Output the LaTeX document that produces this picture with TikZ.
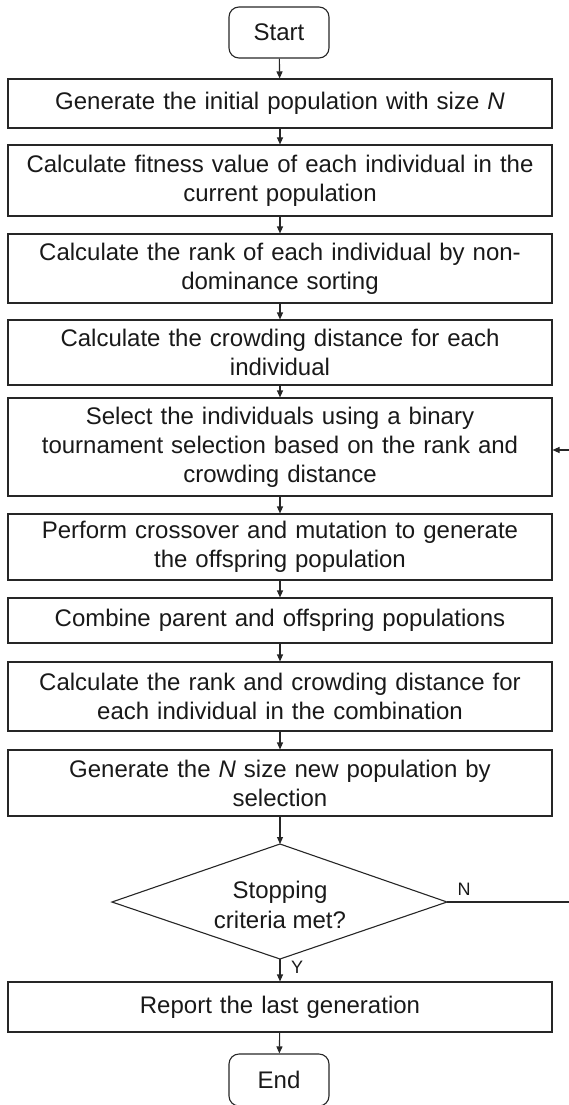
\documentclass[tikz,border=0pt]{standalone}
\usepackage{fontspec}
\setmainfont{Liberation Sans}
\usetikzlibrary{arrows.meta}

\begin{document}
\begin{tikzpicture}[x=1pt,y=-1pt,
  line width=1.1pt,
  every node/.style={text=black!90},
  stepbox/.style={draw=black!85, rectangle, inner sep=0pt,
    minimum width=544pt, text width=536pt, align=center,
    font=\fontsize{24}{29}\selectfont},
  termbox/.style={draw=black!85, rectangle, rounded corners=10pt, inner sep=0pt,
    minimum width=100pt, align=center, font=\fontsize{24}{29}\selectfont},
  flow/.style={draw=black!85, -{Triangle[length=7pt,width=6pt]}},
  lbl/.style={font=\fontsize{18}{20}\selectfont, inner sep=0pt}]

\useasboundingbox (0,0) rectangle (569,1105);
\clip (0,0) rectangle (569,1105);

% terminals
\node[termbox, minimum height=51pt] (start) at (279,32.5) {Start};
\node[termbox, minimum height=52pt] (end) at (279,1080) {End};

% process steps
\node[stepbox, minimum height=49pt] (b1) at (280,103.5) {Generate the initial population with size \textit{N}};
\node[stepbox, minimum height=71pt] (b2) at (280,180.5) {Calculate fitness value of each individual in the\\current population};
\node[stepbox, minimum height=69pt] (b3) at (280,268.5) {Calculate the rank of each individual by non-\\dominance sorting};
\node[stepbox, minimum height=65pt] (b4) at (280,352.5) {Calculate the crowding distance for each\\individual};
\node[stepbox, minimum height=98pt] (b5) at (280,447) {Select the individuals using a binary\\tournament selection based on the rank and\\crowding distance};
\node[stepbox, minimum height=66pt] (b6) at (280,547) {Perform crossover and mutation to generate\\the offspring population};
\node[stepbox, minimum height=45pt] (b7) at (280,620.5) {Combine parent and offspring populations};
\node[stepbox, minimum height=69pt] (b8) at (280,696.5) {Calculate the rank and crowding distance for\\each individual in the combination};
\node[stepbox, minimum height=66pt] (b9) at (280,783) {Generate the \textit{N} size new population by\\selection};
\node[stepbox, minimum height=50pt] (b10) at (280,1007) {Report the last generation};

% decision
\coordinate (dtop) at (280,844);
\coordinate (dbot) at (280,959);
\coordinate (dleft) at (112,902);
\coordinate (dright) at (447,902);
\draw[draw=black!85, line join=miter] (dtop) -- (dright) -- (dbot) -- (dleft) -- cycle;
\node[align=center, inner sep=0pt, font=\fontsize{24}{30}\selectfont] (dec) at (280,905) {Stopping\\criteria met?};

% main flow
\draw[flow] (start) -- (b1);
\draw[flow] (b1) -- (b2);
\draw[flow] (b2) -- (b3);
\draw[flow] (b3) -- (b4);
\draw[flow] (b4) -- (b5);
\draw[flow] (b5) -- (b6);
\draw[flow] (b6) -- (b7);
\draw[flow] (b7) -- (b8);
\draw[flow] (b8) -- (b9);
\draw[flow] (b9) -- (dtop);
\draw[flow] (dbot) -- (b10);
\draw[flow] (b10) -- (end);

% loop back when the criteria are not met
\coordinate (loopa) at (575,902);
\coordinate (loopb) at (575,450);
\draw[flow] (dright) -- (loopa) -- (loopb) -- (b5.east |- loopb);

% branch labels
\node[lbl] (nlab) at (464,889) {N};
\node[lbl] (ylab) at (297,967) {Y};
\end{tikzpicture}
\end{document}
